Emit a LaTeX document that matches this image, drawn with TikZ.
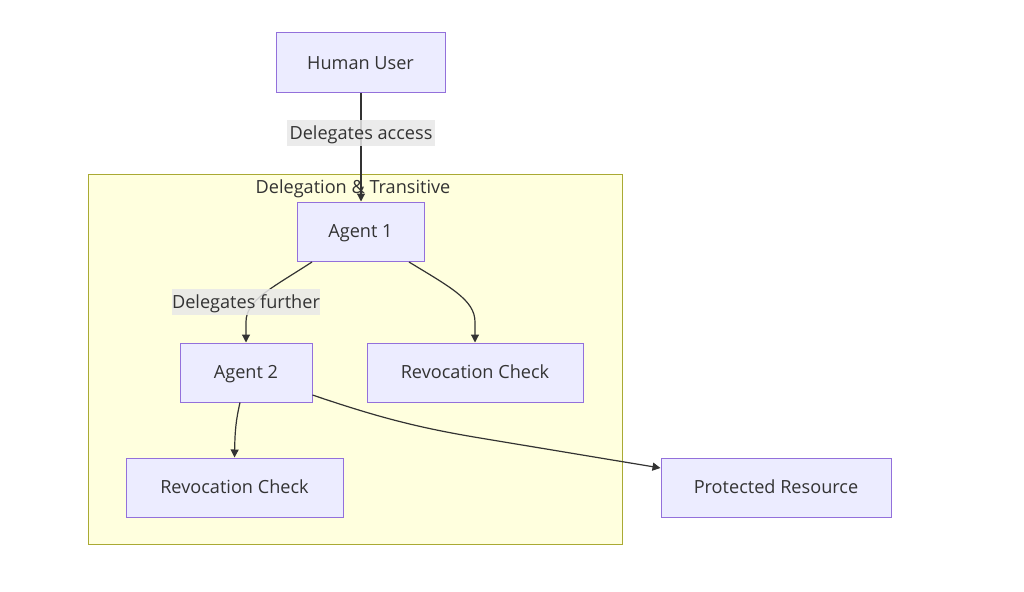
\documentclass[tikz,border=0pt]{standalone}
\usepackage{fontspec}
\setmainfont{Open Sans}
\usetikzlibrary{arrows.meta}
\definecolor{nodefill}{HTML}{ECECFF}
\definecolor{nodeline}{HTML}{9370DB}
\definecolor{clusterfill}{HTML}{FFFFDE}
\definecolor{clusterline}{HTML}{AAAA33}
\definecolor{edgecol}{HTML}{333333}
\definecolor{lblfill}{HTML}{E8E8E8}
\definecolor{txt}{HTML}{333333}
\tikzset{
  x=0.75pt, y=-0.75pt,
  tfont/.style={font=\fontsize{13.6}{16}\selectfont, text height=9.7pt, text depth=0pt},
  box/.style={draw=nodeline, fill=nodefill, line width=0.75pt, inner sep=0pt, text=txt, tfont},
  lbl/.style={fill=lblfill, fill opacity=0.85, text opacity=1, inner sep=0pt, text=txt, tfont},
  edge/.style={draw=edgecol, line width=0.9pt, -{Triangle[length=6pt,width=6pt]}},
}
\begin{document}
\begin{tikzpicture}
\useasboundingbox[fill=white] (0,0) rectangle (1024,592);
\node[draw=clusterline, fill=clusterfill, line width=0.75pt, minimum width=534*0.75pt, minimum height=370*0.75pt, inner sep=0pt] (cluster) at (355,359) {};
\node[text=txt, tfont, inner sep=0pt] (ctitle) at (353,187) {Delegation \& Transitive};
\node[box, minimum width=169*0.75pt, minimum height=60*0.75pt] (hu) at (360.5,63) {Human User};
\node[box, minimum width=127*0.75pt, minimum height=59*0.75pt] (a1) at (360.5,231.5) {Agent 1};
\node[box, minimum width=132*0.75pt, minimum height=59*0.75pt] (a2) at (246,372.5) {Agent 2};
\node[box, minimum width=216*0.75pt, minimum height=59*0.75pt] (rc1) at (475,372.5) {Revocation Check};
\node[box, minimum width=217*0.75pt, minimum height=59*0.75pt] (rc2) at (234.5,487.5) {Revocation Check};
\node[box, minimum width=230*0.75pt, minimum height=59*0.75pt] (pr) at (776,487.5) {Protected Resource};
\coordinate (a1l) at (312,262);
\coordinate (a1r) at (409,262);
\draw[edge] (hu.south -| 361,0) -- (a1.north -| 361,0);
\draw[edge] (a1l) .. controls (272,288) and (246,300) .. (246,322) -- (a2.north);
\draw[edge] (a1r) .. controls (450,287) and (475,300) .. (475,322) -- (rc1.north);
\draw[edge] (a2.south -| 240,0) .. controls (236,420) and (235,430) .. (rc2.north);
\draw[edge] (a2.east |- 0,395) .. controls (380,418) and (420,428) .. (480,438) -- (pr.west |- 0,468);
\node[lbl, minimum width=148*0.75pt, minimum height=26*0.75pt] (l1) at (361,133) {Delegates access};
\node[lbl, minimum width=145*0.75pt, minimum height=26*0.75pt] (l2) at (246,302) {Delegates further};
\end{tikzpicture}
\end{document}
